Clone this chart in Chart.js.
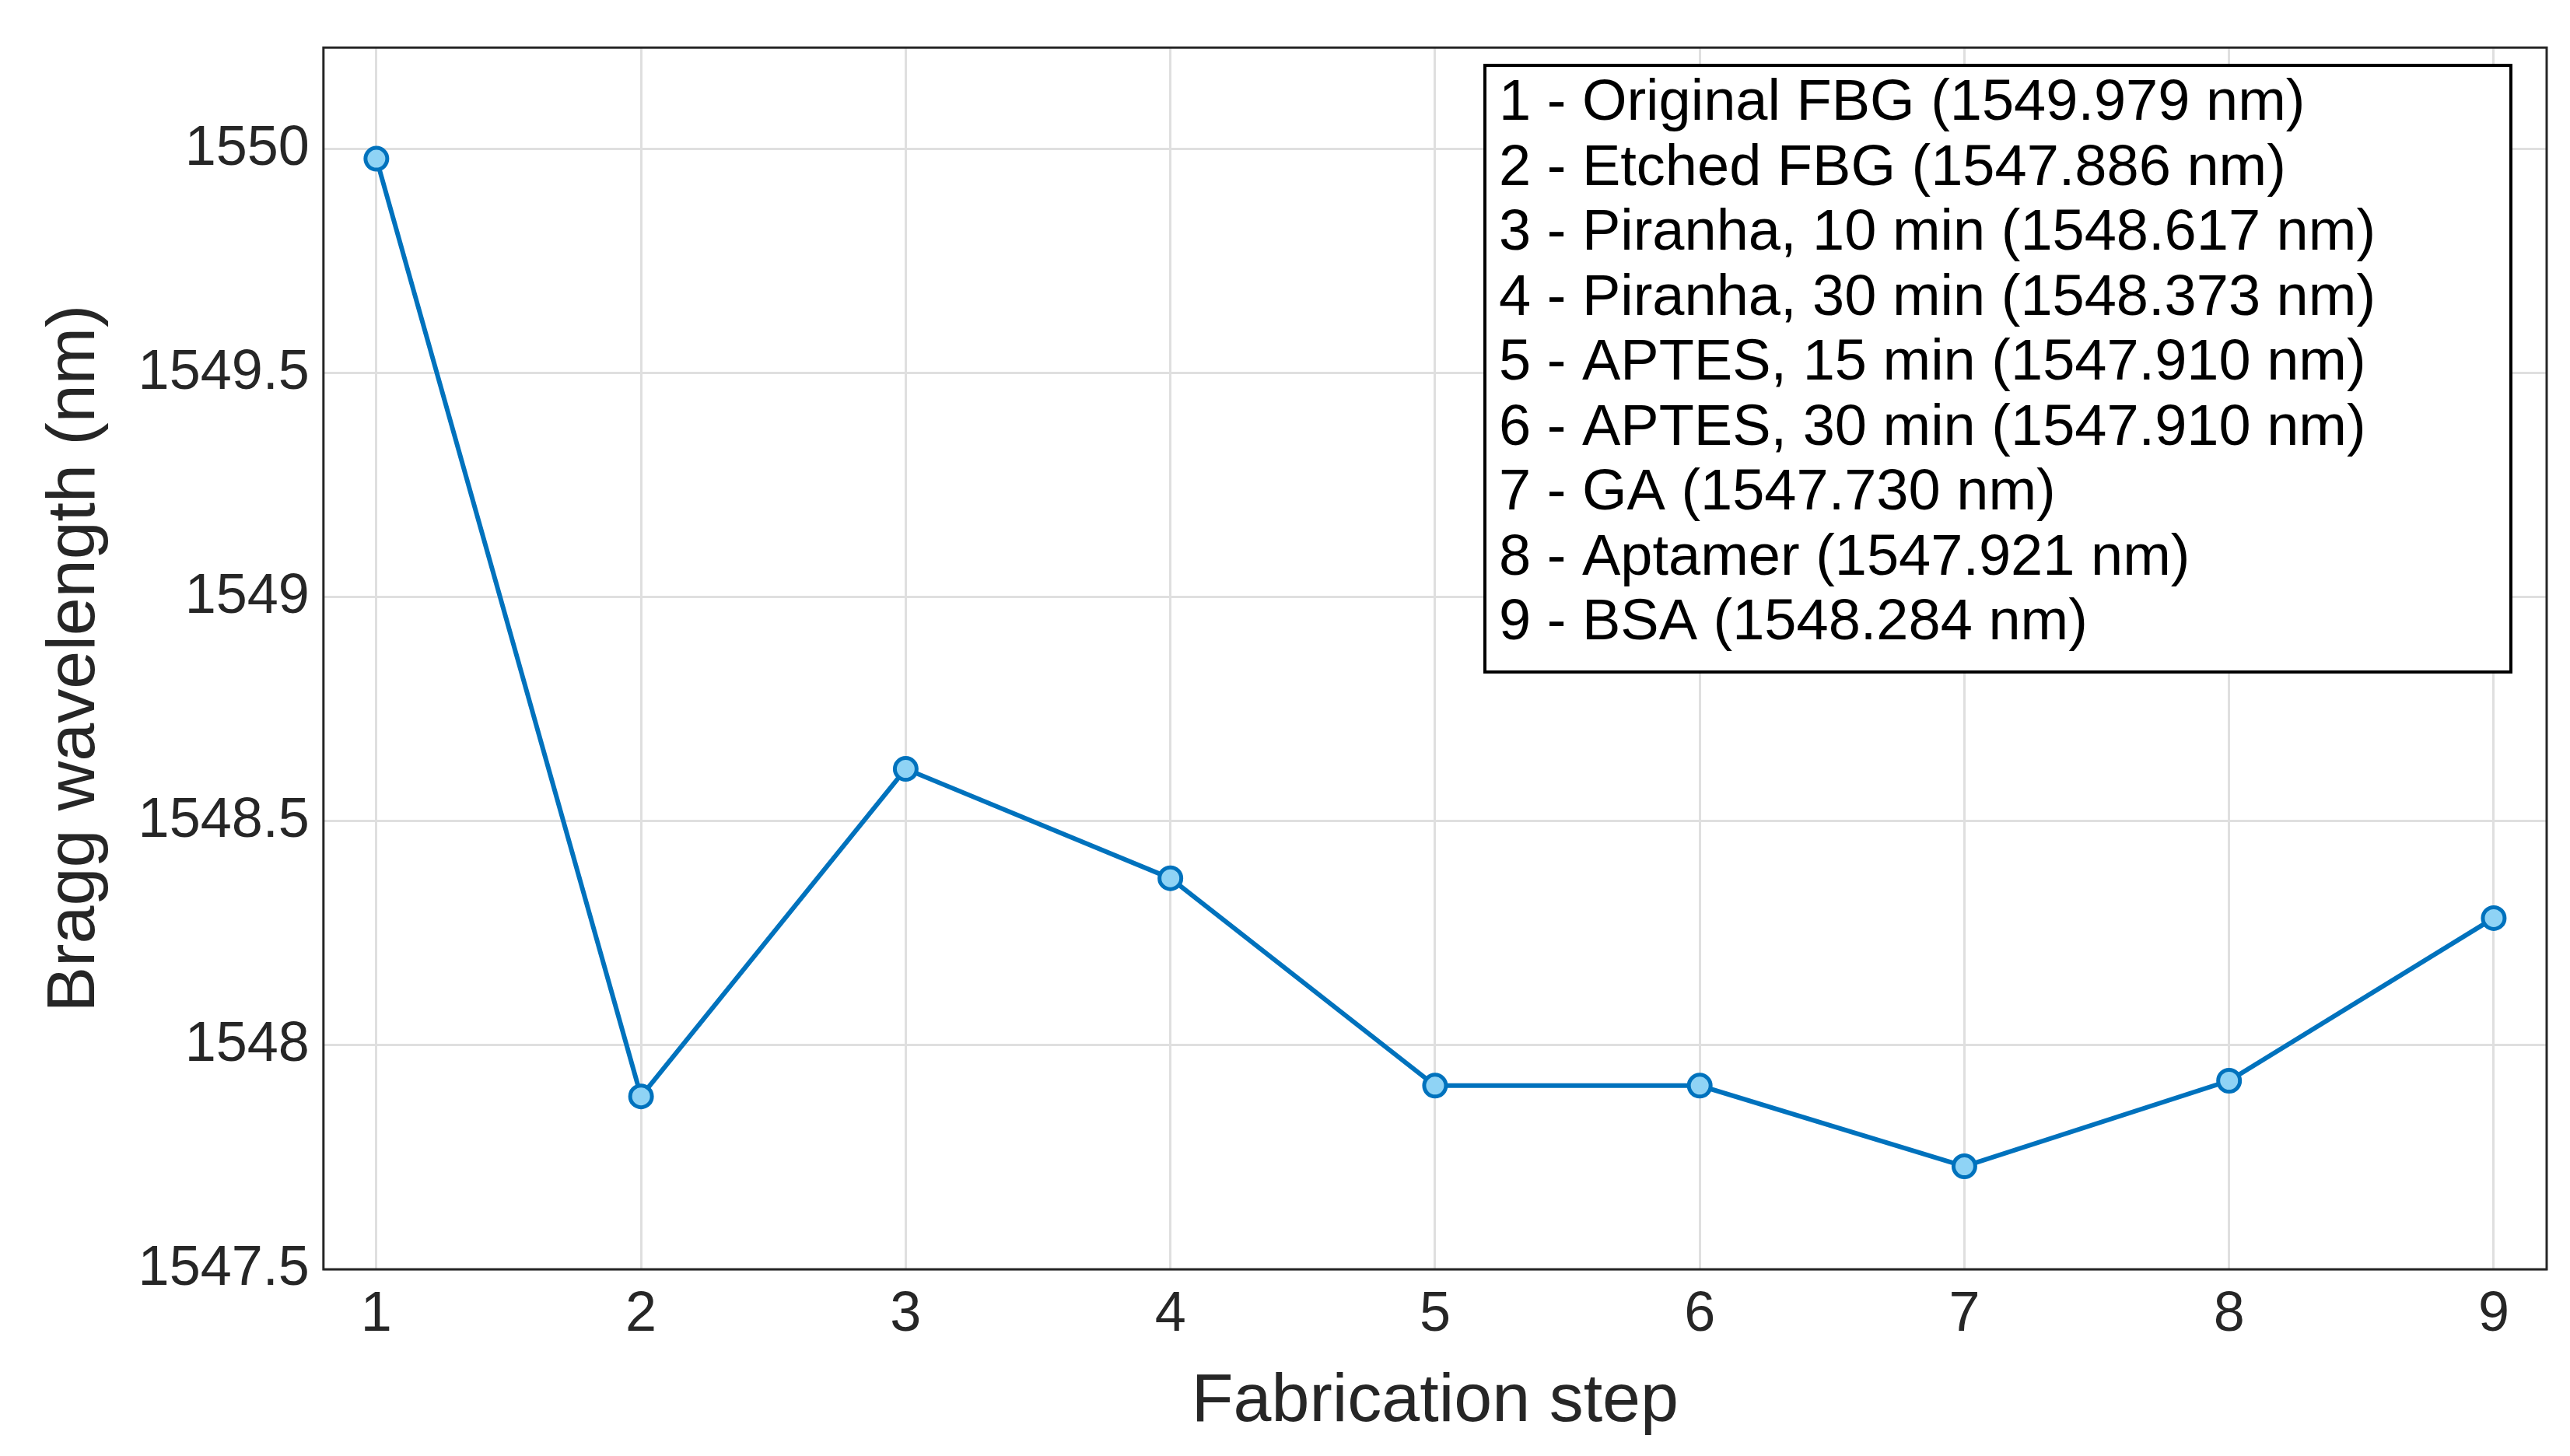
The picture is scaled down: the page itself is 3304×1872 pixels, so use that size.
<!DOCTYPE html>
<html><head><meta charset="utf-8">
<script src="https://cdn.jsdelivr.net/npm/chart.js@4.4.1/dist/chart.umd.min.js"></script>
<style>html,body{margin:0;background:#fff}#wrap{width:3304px;height:1872px}</style>
</head><body><div id="wrap"><canvas id="c"></canvas></div>
<script>
const steps = [1, 2, 3, 4, 5, 6, 7, 8, 9];
const wavelengths = [1549.979, 1547.886, 1548.617, 1548.373, 1547.910, 1547.910, 1547.730, 1547.921, 1548.284];
const legendLines = [
  '1 - Original FBG (1549.979 nm)',
  '2 - Etched FBG (1547.886 nm)',
  '3 - Piranha, 10 min (1548.617 nm)',
  '4 - Piranha, 30 min (1548.373 nm)',
  '5 - APTES, 15 min (1547.910 nm)',
  '6 - APTES, 30 min (1547.910 nm)',
  '7 - GA (1547.730 nm)',
  '8 - Aptamer (1547.921 nm)',
  '9 - BSA (1548.284 nm)'
];
const yTicks = [1547.5, 1548, 1548.5, 1549, 1549.5, 1550];
const FONT = '"Liberation Sans", Arial, sans-serif';

const boxLegend = {
  id: 'boxLegend',
  afterDraw(chart) {
    const ctx = chart.ctx;
    const x = 1909, y = 84, w = 1319, h = 780;
    ctx.save();
    ctx.fillStyle = '#fff';
    ctx.fillRect(x, y, w, h);
    ctx.strokeStyle = '#000';
    ctx.lineWidth = 4;
    ctx.strokeRect(x, y, w, h);
    ctx.fillStyle = '#000';
    ctx.font = '74px ' + FONT;
    ctx.textBaseline = 'middle';
    legendLines.forEach((t, i) => ctx.fillText(t, x + 18, y + 50 + i * 83.5));
    ctx.restore();
  }
};
const frame = {
  id: 'frame',
  afterDatasetsDraw(chart) {
    const a = chart.chartArea, ctx = chart.ctx;
    ctx.save();
    ctx.strokeStyle = '#262626';
    ctx.lineWidth = 3;
    ctx.strokeRect(a.left, a.top, a.right - a.left, a.bottom - a.top);
    ctx.restore();
  }
};

new Chart(document.getElementById('c'), {
  type: 'line',
  data: {
    datasets: [{
      data: steps.map((s, i) => ({ x: s, y: wavelengths[i] })),
      borderColor: '#0072bd',
      borderWidth: 6,
      pointRadius: 14,
      pointBorderWidth: 5,
      pointBackgroundColor: '#8fd3f5',
      pointBorderColor: '#0072bd',
      tension: 0
    }]
  },
  options: {
    responsive: true, maintainAspectRatio: false, animation: false,
    layout: { padding: { left: 40, right: 30, top: 28, bottom: 12 } },
    plugins: { legend: { display: false }, tooltip: { enabled: false } },
    scales: {
      x: {
        type: 'linear', min: 0.8, max: 9.2,
        afterBuildTicks: s => { s.ticks = steps.map(v => ({ value: v })); },
        grid: { color: '#dfdfdf', lineWidth: 3, drawTicks: false },
        border: { display: false },
        ticks: { color: '#262626', font: { size: 72, family: FONT }, padding: 16, callback: v => String(v) },
        title: { display: true, text: 'Fabrication step', color: '#262626', font: { size: 88, family: FONT }, padding: { top: 0 } }
      },
      y: {
        min: 1547.5, max: 1550.227,
        afterBuildTicks: s => { s.ticks = yTicks.map(v => ({ value: v })); },
        grid: { color: '#dfdfdf', lineWidth: 3, drawTicks: false },
        border: { display: false },
        ticks: { color: '#262626', font: { size: 72, family: FONT }, padding: 18, callback: v => String(v) },
        title: { display: true, text: 'Bragg wavelength (nm)', color: '#262626', font: { size: 88, family: FONT }, padding: { bottom: 10 } }
      }
    }
  },
  plugins: [frame, boxLegend]
});
</script></body></html>
